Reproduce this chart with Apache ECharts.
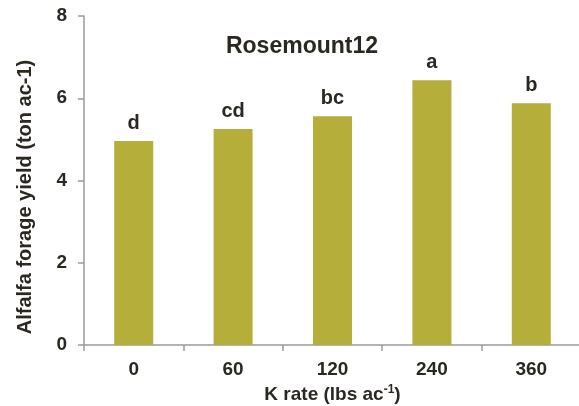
<!DOCTYPE html>
<html>
<head>
<meta charset="utf-8">
<script src="https://cdn.jsdelivr.net/npm/echarts@6/dist/echarts.min.js"></script>
<style>
  html, body { margin: 0; padding: 0; background: #fff; }
  #chart { width: 579px; height: 406px; }
</style>
</head>
<body>
<div id="chart"></div>
<script>
// K application rates (lbs ac-1)
const kRates = ['0', '60', '120', '240', '360'];
// Alfalfa forage yield (ton ac-1)
const yieldValues = [4.96, 5.25, 5.56, 6.44, 5.88];
// Mean separation letters
const letters = ['d', 'cd', 'bc', 'a', 'b'];
// Y-axis ticks
const yMin = 0, yMax = 8, yStep = 2;

const textColor = '#2b2822';
const font = '"Liberation Sans", Arial, sans-serif';

const chart = echarts.init(document.getElementById('chart'), null, { renderer: 'canvas' });
chart.setOption({
  animation: false,
  backgroundColor: '#ffffff',
  grid: { left: 84, right: -2, top: 16, bottom: 61, containLabel: false, outerBoundsMode: 'none' },
  graphic: [
    {
      type: 'text', x: 302, y: 47,
      style: { text: 'Rosemount12', fontFamily: font, fontWeight: 'bold', fontSize: 23,
               fill: textColor, align: 'center', verticalAlign: 'middle' }
    },
    {
      type: 'text', x: 25, y: 197, rotation: Math.PI / 2,
      style: { text: 'Alfalfa forage yield (ton ac-1)', fontFamily: font, fontWeight: 'bold', fontSize: 20,
               fill: textColor, align: 'center', verticalAlign: 'middle' }
    }
  ],
  xAxis: {
    type: 'category',
    data: kRates,
    boundaryGap: true,
    axisLine: { lineStyle: { color: '#9a9a9a', width: 1.5 } },
    axisTick: { show: true, alignWithLabel: false, length: 6, lineStyle: { color: '#9a9a9a', width: 1.5 } },
    axisLabel: { margin: 15, color: textColor, fontFamily: font, fontWeight: 'bold', fontSize: 19 },
    name: '{a|K rate (lbs ac}{s|-1}{a|)}',
    nameLocation: 'middle',
    nameGap: 33,
    nameTextStyle: {
      rich: {
        a: { color: textColor, fontFamily: font, fontWeight: 'bold', fontSize: 19 },
        s: { color: textColor, fontFamily: font, fontWeight: 'bold', fontSize: 12, verticalAlign: 'top', padding: [0, 0, 10, 0] }
      }
    }
  },
  yAxis: {
    type: 'value',
    min: yMin, max: yMax, interval: yStep,
    axisLine: { show: true, lineStyle: { color: '#9a9a9a', width: 1.5 } },
    axisTick: { show: true, length: 6, lineStyle: { color: '#9a9a9a', width: 1.5 } },
    splitLine: { show: false },
    axisLabel: { margin: 17, color: textColor, fontFamily: font, fontWeight: 'bold', fontSize: 19 }
  },
  series: [{
    type: 'bar',
    data: yieldValues,
    barWidth: 39,
    itemStyle: { color: '#b6ae3b' },
    label: {
      show: true, position: 'top', distance: 8,
      formatter: p => letters[p.dataIndex],
      color: textColor, fontFamily: font, fontWeight: 'bold', fontSize: 20
    }
  }]
});
</script>
</body>
</html>
